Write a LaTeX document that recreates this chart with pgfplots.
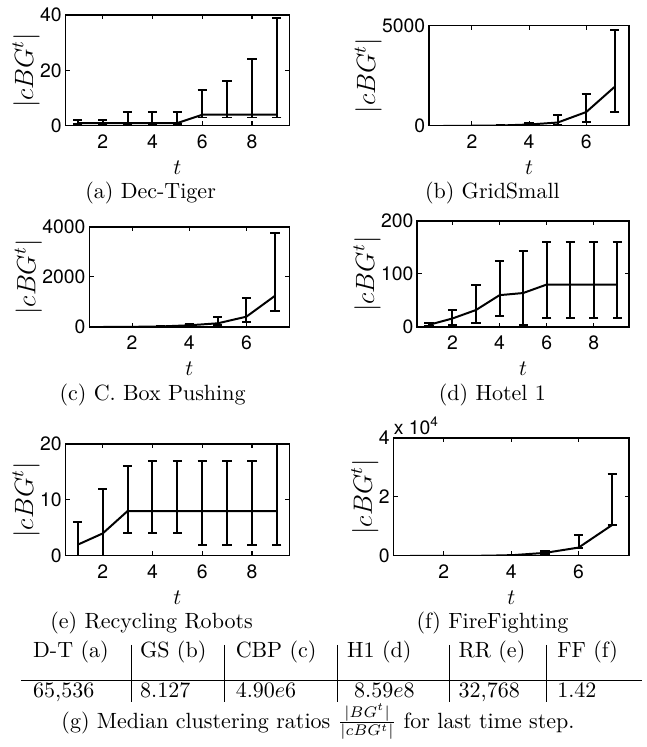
\documentclass[border=0pt]{standalone}
\usepackage{pgfplots}
\pgfplotsset{compat=1.18}
\usepackage{pgfplotstable}
\usepackage{fontspec}
\newfontfamily\helv{TeX Gyre Heros}

% Dec-Tiger
\pgfplotstableread{
t y lo hi
1 1 0.5 2
2 1 0.5 2
3 1 0.5 5
4 1 0.5 5
5 1 0.5 5
6 4 3 13
7 4 3 16
8 4 3 24
9 4 3 39
}\tabA
% GridSmall
\pgfplotstableread{
t y lo hi
1 1 0 4
2 4 1 16
3 16 2 50
4 66 16 164
5 164 66 543
6 690 214 1612
7 1957 674 4786
}\tabB
% C. Box Pushing
\pgfplotstableread{
t y lo hi
1 1 0 3
2 5 1 10
3 20 8 40
4 66 40 119
5 146 66 384
6 411 199 1166
7 1245 622 3762
}\tabC
% Hotel 1
\pgfplotstableread{
t y lo hi
1 4 2 8
2 16 4 32
3 32 8 80
4 60 20 124
5 64 4 144
6 80 16 160
7 80 16 160
8 80 16 160
9 80 16 160
}\tabD
% Recycling Robots
\pgfplotstableread{
t y lo hi
1 2 0 6
2 4 0 12
3 8 4 16
4 8 4 17
5 8 4 17
6 8 2 17
7 8 2 17
8 8 2 17
9 8 2 20
}\tabE
% FireFighting
\pgfplotstableread{
t y lo hi
1 1 1 2
2 2 1 4
3 10 5 30
4 200 100 450
5 1000 780 1700
6 2800 2800 6950
7 10500 10500 27900
}\tabF

\pgfplotsset{
  mat/.style={
    scale only axis,
    anchor=north west,
    axis line style={line width=0.6pt},
    every tick/.style={line width=0.5pt, black},
    tick align=inside,
    major tick length=2pt,
    xtick pos=both, ytick pos=both,
    tick label style={font=\fontsize{8.8}{9}\selectfont\helv},
    /pgf/number format/assume math mode=true,
    /pgf/number format/1000 sep={},
    scaled y ticks=false,
    xlabel={$t$},
    ylabel={$|cBG^t|$},
    xlabel style={font=\fontsize{10}{11}\selectfont, inner sep=0pt, yshift=-4pt},
    ylabel style={font=\fontsize{11.5}{12}\selectfont, inner sep=1pt},
    ylabel shift=-2pt,
    xticklabel style={yshift=-3pt, inner sep=1pt},
    yticklabel style={inner sep=1pt, xshift=-0.5pt},
  },
  eb/.style={black, line width=0.9pt, mark=none,
    error bars/.cd, y dir=both, y explicit,
    error bar style={line width=0.9pt},
    error mark options={rotate=90, mark size=2.1pt, line width=0.9pt, black}},
}
\newcommand{\EB}[1]{\addplot[eb] table[x=t, y=y,
  y error plus expr=\thisrow{hi}-\thisrow{y},
  y error minus expr=\thisrow{y}-\thisrow{lo}] {#1};}

\begin{document}
\begin{tikzpicture}
\path (0,0) rectangle (653*0.45pt, -747*0.45pt);

\begin{axis}[mat, at={(66*0.45pt,-15*0.45pt)}, width=226*0.45pt, height=112*0.45pt,
  xmin=0.5, xmax=9.5, ymin=0, ymax=40, xtick={2,4,6,8}, ytick={0,20,40}]
\EB{\tabA}
\end{axis}

\begin{axis}[mat, at={(433*0.45pt,-26*0.45pt)}, width=202*0.45pt, height=101*0.45pt,
  xmin=0.5, xmax=7.5, ymin=0, ymax=5000, xtick={2,4,6}, ytick={0,5000}]
\EB{\tabB}
\end{axis}

\begin{axis}[mat, at={(90*0.45pt,-229*0.45pt)}, width=202*0.45pt, height=101*0.45pt,
  xmin=0.5, xmax=7.5, ymin=0, ymax=4000, xtick={2,4,6}, ytick={0,2000,4000}]
\EB{\tabC}
\end{axis}

\begin{axis}[mat, at={(421*0.45pt,-223*0.45pt)}, width=214*0.45pt, height=107*0.45pt,
  xmin=0.5, xmax=9.5, ymin=0, ymax=200, xtick={2,4,6,8}, ytick={0,100,200}]
\EB{\tabD}
\end{axis}

\begin{axis}[mat, at={(66*0.45pt,-448*0.45pt)}, width=226*0.45pt, height=113*0.45pt,
  xmin=0.5, xmax=9.5, ymin=0, ymax=20, xtick={2,4,6,8}, ytick={0,10,20}]
\EB{\tabE}
\end{axis}

\begin{axis}[mat, name=axF, at={(397*0.45pt,-442*0.45pt)}, width=238*0.45pt, height=119*0.45pt,
  xmin=0.5, xmax=7.5, ymin=0, ymax=40000, xtick={2,4,6}, ytick={0,20000,40000},
  yticklabels={0,2,4}]
\EB{\tabF}
\end{axis}
\node[anchor=south west, inner sep=0pt, yshift=1pt, font=\fontsize{8.8}{9}\selectfont\helv]
  at (axF.north west) {x 10\textsuperscript{4}};

\begin{scope}[x=0.45pt, y=-0.45pt, font=\fontsize{10}{12}\selectfont]
\node[anchor=base] at (152,200) {(a) Dec-Tiger};
\node[anchor=base] at (497,200) {(b) GridSmall};
\node[anchor=base] at (154,404) {(c) C. Box Pushing};
\node[anchor=base] at (497,404) {(d) Hotel 1};
\node[anchor=base] at (153,634) {(e) Recycling Robots};
\node[anchor=base] at (497,634) {(f) FireFighting};

\foreach \xx/\txt in {33/{D-T (a)}, 141/{GS (b)}, 237.5/{CBP (c)}, 350/{H1 (d)}, 462.5/{RR (e)}, 562/{FF (f)}}
  \node[anchor=base west, inner sep=0pt] at (\xx,664) {\txt};
\foreach \xx/\txt in {33/{65,536}, 141/{8.127}, 237.5/{4.90$e$6}, 357/{8.59$e$8}, 462.5/{32,768}, 562/{1.42}}
  \node[anchor=base west, inner sep=0pt] at (\xx,704) {\txt};
\draw[line width=0.5pt] (21,687) -- (648,687);
\foreach \xx in {132.5,227,341,454,552}
  \draw[line width=0.4pt] (\xx,651) -- (\xx,709);
\node[anchor=base] at (321,735) {(g) Median clustering ratios $\frac{|BG^t|}{|cBG^t|}$ for last time step.};
\end{scope}
\end{tikzpicture}
\end{document}
